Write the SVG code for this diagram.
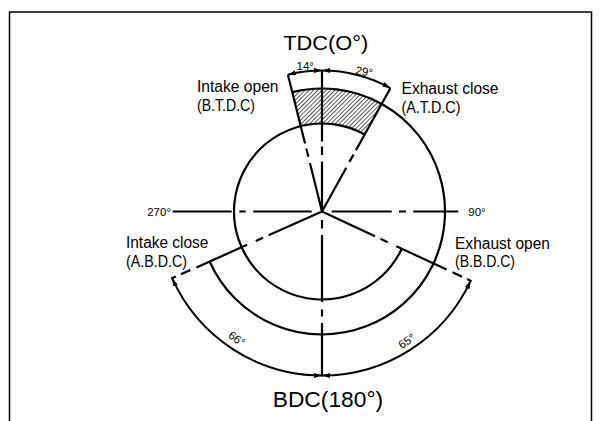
<svg xmlns="http://www.w3.org/2000/svg" width="602" height="421" viewBox="0 0 602 421">
  <style>
    .ln { fill: none; stroke: #000; stroke-width: 2.2; stroke-linecap: butt; }
    .dim { fill: none; stroke: #000; stroke-width: 2; }
    .lbl { font-family: "Liberation Sans", Arial, sans-serif; font-size: 16px; fill: #000; }
    .big { font-family: "Liberation Sans", Arial, sans-serif; font-size: 21px; fill: #000; }
    .sm { font-family: "Liberation Sans", Arial, sans-serif; font-size: 11.5px; fill: #000; }
  </style>
  <defs>
    <marker id="arr" viewBox="0 0 8 5" refX="8" refY="2.5" markerWidth="8" markerHeight="5" markerUnits="userSpaceOnUse" orient="auto-start-reverse">
      <path d="M0,0 L8,2.5 L0,5 Z" fill="#000"/>
    </marker>
    <pattern id="hatch" width="3" height="3" patternUnits="userSpaceOnUse" patternTransform="rotate(45)">
      <line x1="0" y1="0" x2="0" y2="3" stroke="#000" stroke-width="1.3"/>
    </pattern>
  </defs>

  <rect x="9.5" y="12" width="582" height="420" fill="none" stroke="#000" stroke-width="1.5"/>

  <g id="overlap-hatch">
    <path d="M300.71,126.11 L292.24,92.15 A123,123 0 0 1 381.63,103.92 L364.66,134.53 A88,88 0 0 0 300.71,126.11 Z" fill="url(#hatch)" stroke="none"/>
  </g>

  <g id="exhaust-arc">
    <path class="ln" d="M364.66,134.53 A88,88 0 1 0 401.76,248.69"/>
  </g>
  <g id="intake-arc">
    <path class="ln" d="M292.24,92.15 A123,123 0 1 1 209.63,261.53"/>
  </g>

  <g id="connectors">
    <path class="ln" d="M322,211.5 L309.90,162.98 M308.33,156.68 L306.28,148.43 M305.07,143.58 L287.89,74.69"/>
    <path class="ln" d="M322,211.5 L322,161.5 M322,155 L322,146.5 M322,141.5 L322,70"/>
    <path class="ln" d="M322,211.5 L346.24,167.77 M349.39,162.08 L353.51,154.65 M355.94,150.28 L390.36,88.18"/>
    <path class="ln" d="M322,211.5 L375.02,236.22 M380.46,238.76 L387.71,242.14 M396.32,246.15 L446.62,269.61 M452.51,272.36 L462.02,276.79 M467.01,279.12 L471.54,281.23"/>
    <path class="ln" d="M322,211.5 L268.56,235.29 M263.08,237.73 L255.77,240.99 M247.09,244.85 L196.39,267.43 M190.45,270.07 L180.86,274.34 M175.83,276.58 L171.26,278.61"/>
    <path class="ln" d="M322,220 L322,228.5 M322,235 L322,302 M322,309.5 L322,316.5 M322,323 L322,376.5"/>
    <path class="ln" d="M172.7,211.5 L231.7,211.5 M239.3,211.5 L245.7,211.5 M253.3,211.5 L311.7,211.5"/>
    <path class="ln" d="M331.7,211.5 L391.7,211.5 M399,211.5 L406,211.5 M413.3,211.5 L458.3,211.5"/>

    <path class="dim" d="M287.89,74.69 A141,141 0 0 1 322,70.5" marker-start="url(#arr)" marker-end="url(#arr)"/>
    <path class="dim" d="M322,70.5 A141,141 0 0 1 390.36,88.18" marker-start="url(#arr)" marker-end="url(#arr)"/>
    <path class="dim" d="M172.18,278.21 A164,164 0 0 0 322,375.5" marker-start="url(#arr)" marker-end="url(#arr)"/>
    <path class="dim" d="M322,375.5 A164,164 0 0 0 470.63,280.81" marker-start="url(#arr)" marker-end="url(#arr)"/>
  </g>

  <g id="tdc"><text class="big" x="283.3" y="50" textLength="85" lengthAdjust="spacingAndGlyphs">TDC(O°)</text></g>
  <g id="bdc"><text class="big" x="272.7" y="406.7" style="font-size:22px" textLength="110.5" lengthAdjust="spacingAndGlyphs">BDC(180°)</text></g>

  <g id="deg-14"><text class="sm" x="296.5" y="70">14°</text></g>
  <g id="deg-29"><text class="sm" transform="translate(363.5,75.5) rotate(10)" text-anchor="middle">29°</text></g>
  <g id="deg-66"><text class="sm" transform="translate(234.5,342) rotate(35)" text-anchor="middle">66°</text></g>
  <g id="deg-65"><text class="sm" transform="translate(409,344.5) rotate(-34)" text-anchor="middle">65°</text></g>
  <g id="deg-270"><text class="sm" x="171" y="215.7" text-anchor="end">270°</text></g>
  <g id="deg-90"><text class="sm" x="468.3" y="215.7">90°</text></g>

  <g id="intake-open">
    <text class="lbl" x="197" y="91.5" textLength="81.5" lengthAdjust="spacingAndGlyphs">Intake open</text>
    <text class="lbl" x="197" y="111" textLength="58" lengthAdjust="spacingAndGlyphs">(B.T.D.C)</text>
  </g>
  <g id="exhaust-close">
    <text class="lbl" x="401.5" y="93.5" textLength="97" lengthAdjust="spacingAndGlyphs">Exhaust close</text>
    <text class="lbl" x="401.5" y="113.3" textLength="59" lengthAdjust="spacingAndGlyphs">(A.T.D.C)</text>
  </g>
  <g id="intake-close">
    <text class="lbl" x="126" y="248.3" textLength="82.3" lengthAdjust="spacingAndGlyphs">Intake close</text>
    <text class="lbl" x="126" y="267" textLength="61" lengthAdjust="spacingAndGlyphs">(A.B.D.C)</text>
  </g>
  <g id="exhaust-open">
    <text class="lbl" x="455" y="249" textLength="95" lengthAdjust="spacingAndGlyphs">Exhaust open</text>
    <text class="lbl" x="455" y="267" textLength="60" lengthAdjust="spacingAndGlyphs">(B.B.D.C)</text>
  </g>
</svg>
